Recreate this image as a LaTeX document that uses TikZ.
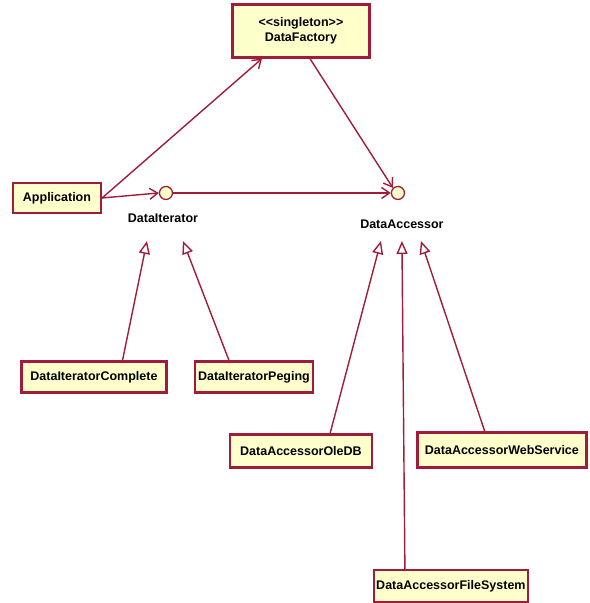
\documentclass[tikz,border=0pt]{standalone}
\usepackage{fontspec}
\setmainfont{Liberation Sans}
\usetikzlibrary{arrows.meta}
\definecolor{umlred}{RGB}{160,28,58}
\definecolor{umlfill}{RGB}{255,255,204}

\begin{document}
\begin{tikzpicture}[x=1pt,y=-1pt,
  cls/.style={draw=umlred,line width=2.2pt,fill=umlfill,inner xsep=10pt,
    minimum height=31pt,font=\fontsize{12.5}{15}\selectfont\bfseries},
  iface/.style={circle,draw=umlred,line width=1.3pt,fill=umlfill,
    minimum size=13pt,inner sep=0pt},
  lbl/.style={font=\fontsize{12.5}{15}\selectfont\bfseries},
  dep/.style={draw=umlred,line width=1.4pt,-{Straight Barb[length=8pt,width=11pt]}},
  gen/.style={draw=umlred,line width=1.4pt,-{Triangle[open,length=13pt,width=11pt,fill=white]}}]
\path (0,0) rectangle (590,603);

% classes
\node[cls,align=center,minimum width=137pt,minimum height=53pt] (factory) at (301,31)
  {{<}{<}singleton{>}{>}\\DataFactory};
\node[cls,minimum height=30pt] (app) at (57,198) {Application};
\node[cls,minimum width=145pt,inner xsep=2pt] (itcomplete) at (94,377) {DataIteratorComplete};
\node[cls,minimum width=118pt,inner xsep=2pt] (itpeging) at (254,377) {DataIteratorPeging};
\node[cls,minimum width=137pt,minimum height=33pt] (acoledb) at (301,451) {DataAccessorOleDB};
\node[cls,minimum width=169pt,minimum height=35pt,inner xsep=2pt] (acweb) at (502,450) {DataAccessorWebService};
\node[cls,minimum width=141pt,minimum height=32pt,inner xsep=2pt] (acfile) at (451,586) {DataAccessorFileSystem};

% interfaces
\node[iface] (iterator) at (166,193) {};
\node[lbl] (iteratorlbl) at (163,218) {DataIterator};
\node[iface] (accessor) at (398,193) {};
\node[lbl] (accessorlbl) at (402,224) {DataAccessor};

% dependencies
\draw[dep] (app.east) -- (factory.south west -| 262,58);
\draw[dep] (app.east) -- (iterator.west);
\draw[dep] (iterator.east) -- (accessor.west);
\draw[dep] (factory.south -| 310,58) -- (accessor.north west);

% realizations
\coordinate (itcompletetop) at (122,363);
\coordinate (itpegingtop) at (230,363);
\coordinate (acoledbtop) at (330,434);
\coordinate (acfiletop) at (405,570);
\coordinate (acwebtop) at (485,432);
\draw[gen] (itcompletetop) -- (147,241);
\draw[gen] (itpegingtop) -- (183,241);
\draw[gen] (acoledbtop) -- (381,241);
\draw[gen] (acfiletop) -- (402,241);
\draw[gen] (acwebtop) -- (421,241);
\end{tikzpicture}
\end{document}
